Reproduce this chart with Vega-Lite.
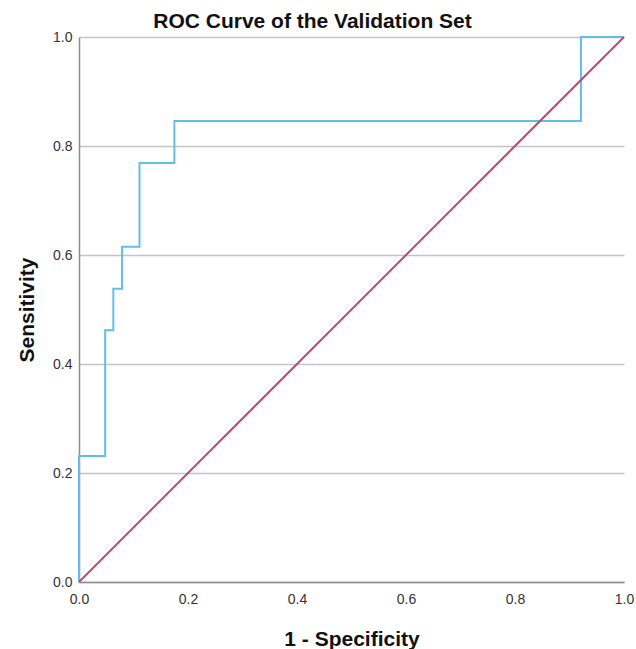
{
  "$schema": "https://vega.github.io/schema/vega-lite/v6.json",
  "width": 545,
  "height": 545,
  "autosize": {"type": "none"},
  "padding": {"left": 79, "top": 37, "right": 12, "bottom": 67},
  "background": "white",
  "title": {
    "text": "ROC Curve of the Validation Set",
    "fontSize": 21,
    "font": "Liberation Sans",
    "fontWeight": "bold",
    "color": "#111111",
    "anchor": "middle",
    "dx": -39,
    "offset": -2
  },
  "config": {
    "view": {"stroke": null},
    "axis": {
      "labelFont": "Liberation Sans",
      "titleFont": "Liberation Sans",
      "labelFontSize": 14,
      "labelColor": "#333333",
      "labelFlush": false,
      "titleFontSize": 21,
      "titleFontWeight": "bold",
      "titleColor": "#111111",
      "ticks": false,
      "domainColor": "#8c8c8c",
      "domainWidth": 1.5
    }
  },
  "data": {
    "values": [
      {"series": "ROC", "order": 0, "fpr": 0.0, "tpr": 0.0},
      {"series": "ROC", "order": 1, "fpr": 0.0, "tpr": 0.231},
      {"series": "ROC", "order": 2, "fpr": 0.048, "tpr": 0.231},
      {"series": "ROC", "order": 3, "fpr": 0.048, "tpr": 0.462},
      {"series": "ROC", "order": 4, "fpr": 0.063, "tpr": 0.462},
      {"series": "ROC", "order": 5, "fpr": 0.063, "tpr": 0.538},
      {"series": "ROC", "order": 6, "fpr": 0.079, "tpr": 0.538},
      {"series": "ROC", "order": 7, "fpr": 0.079, "tpr": 0.615},
      {"series": "ROC", "order": 8, "fpr": 0.111, "tpr": 0.615},
      {"series": "ROC", "order": 9, "fpr": 0.111, "tpr": 0.769},
      {"series": "ROC", "order": 10, "fpr": 0.175, "tpr": 0.769},
      {"series": "ROC", "order": 11, "fpr": 0.175, "tpr": 0.846},
      {"series": "ROC", "order": 12, "fpr": 0.921, "tpr": 0.846},
      {"series": "ROC", "order": 13, "fpr": 0.921, "tpr": 1.0},
      {"series": "ROC", "order": 14, "fpr": 1.0, "tpr": 1.0},
      {"series": "Reference", "order": 0, "fpr": 0.0, "tpr": 0.0},
      {"series": "Reference", "order": 1, "fpr": 1.0, "tpr": 1.0}
    ]
  },
  "mark": {"type": "line", "strokeWidth": 2, "interpolate": "linear"},
  "encoding": {
    "x": {
      "field": "fpr",
      "type": "quantitative",
      "scale": {"domain": [0, 1], "nice": false},
      "axis": {
        "title": "1 - Specificity",
        "values": [0, 0.2, 0.4, 0.6, 0.8, 1.0],
        "format": ".1f",
        "grid": false,
        "labelPadding": 10,
        "titlePadding": 22
      }
    },
    "y": {
      "field": "tpr",
      "type": "quantitative",
      "scale": {"domain": [0, 1], "nice": false},
      "axis": {
        "title": "Sensitivity",
        "values": [0, 0.2, 0.4, 0.6, 0.8, 1.0],
        "format": ".1f",
        "grid": true,
        "gridColor": "#c4c4c4",
        "gridWidth": 1.5,
        "labelPadding": 7,
        "titlePadding": 15
      }
    },
    "color": {
      "field": "series",
      "type": "nominal",
      "scale": {"domain": ["ROC", "Reference"], "range": ["#63bde9", "#bc4a70"]},
      "legend": null
    },
    "order": {"field": "order", "type": "quantitative"}
  }
}
